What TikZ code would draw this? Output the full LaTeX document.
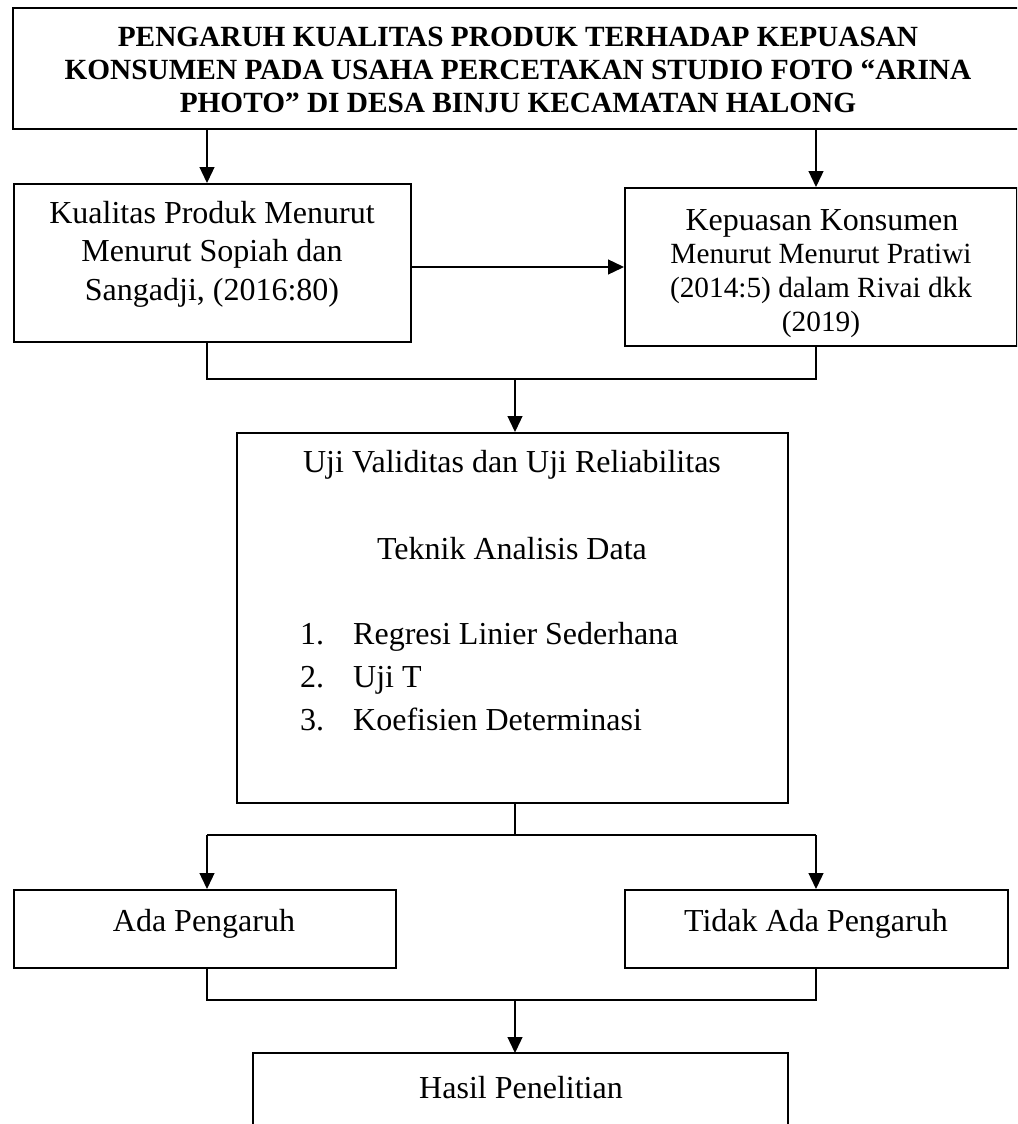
\documentclass[tikz,border=0pt]{standalone}
\usepackage{fontspec}
\setmainfont{Liberation Serif}
\usetikzlibrary{arrows.meta}
\tikzset{
  boxst/.style={draw=black, line width=1.7pt, rectangle, inner sep=0pt},
  conn/.style={line width=1.3pt},
  arr/.style={line width=1.3pt, -{Triangle[length=16pt,width=15pt]}},
  txt/.style={inner sep=0pt, align=center, font=\fontsize{32}{38.5}\selectfont},
  smalltxt/.style={inner sep=0pt, align=center, font=\fontsize{29.3}{34}\selectfont},
  titletxt/.style={inner sep=0pt, align=center, font=\bfseries\fontsize{29.3}{33}\selectfont},
}
\begin{document}
\begin{tikzpicture}[x=1pt,y=-1pt]
\useasboundingbox (0,0) rectangle (1017,1124);
\clip (0,0) rectangle (1017,1124);
% column coordinates
\coordinate (cl) at (207,0);
\coordinate (cr) at (816,0);
\coordinate (cm) at (515,0);
\coordinate (jm) at (0,379);
\coordinate (j2) at (0,835);
\coordinate (j3) at (0,1000);
\coordinate (hy) at (0,267);

% boxes
\path[boxst] (13,8) rectangle (1030,129);
\node[inner sep=0pt, minimum width=1017pt, minimum height=121pt, anchor=north west] (top) at (13,8) {};
\node[boxst, minimum width=397pt, minimum height=158pt, anchor=north west] (kual) at (13,183) {};
\node[boxst, minimum width=392pt, minimum height=158pt, anchor=north west] (kep) at (624,187) {};
\node[boxst, minimum width=551pt, minimum height=370pt, anchor=north west] (mid) at (236,432) {};
\node[boxst, minimum width=382pt, minimum height=78pt, anchor=north west] (ada) at (13,889) {};
\node[boxst, minimum width=383pt, minimum height=78pt, anchor=north west] (tidak) at (624,889) {};
\path[boxst] (253,1053) rectangle (788,1140);
\node[inner sep=0pt, minimum width=535pt, minimum height=87pt, anchor=north west] (hasil) at (253,1053) {};

% texts
\node[titletxt] (ttl) at (518,70) {PENGARUH KUALITAS PRODUK TERHADAP KEPUASAN\\KONSUMEN PADA USAHA PERCETAKAN STUDIO FOTO \char"201C ARINA\\PHOTO\char"201D{} DI DESA BINJU KECAMATAN HALONG};
\node[txt] (kualt) at (212,254) {Kualitas Produk Menurut\\Menurut Sopiah dan\\Sangadji, (2016:80)};
\node[txt] (kept1) at (822,223) {Kepuasan Konsumen};
\node[smalltxt] (kept2) at (821,291) {Menurut Menurut Pratiwi\\(2014:5) dalam Rivai dkk\\(2019)};
\node[txt] (midt1) at (512,465) {Uji Validitas dan Uji Reliabilitas};
\node[txt] (midt2) at (512,549) {Teknik Analisis Data};
\node[txt, anchor=base west] (n1) at (300,644) {1.};
\node[txt, anchor=base west] (i1) at (353,644) {Regresi Linier Sederhana};
\node[txt, anchor=base west] (n2) at (300,687) {2.};
\node[txt, anchor=base west] (i2) at (353,687) {Uji T};
\node[txt, anchor=base west] (n3) at (300,730) {3.};
\node[txt, anchor=base west] (i3) at (353,730) {Koefisien Determinasi};
\node[txt] (adat) at (204,924) {Ada Pengaruh};
\node[txt] (tidakt) at (816,924) {Tidak Ada Pengaruh};
\node[txt] (hasilt) at (521,1088) {Hasil Penelitian};

% connectors
\draw[arr] (top.south -| cl) -- (kual.north -| cl);
\draw[arr] (top.south -| cr) -- (kep.north -| cr);
\draw[arr] (kual.east |- hy) -- (kep.west |- hy);
\draw[conn] (kual.south -| cl) -- (cl |- jm) -- (cr |- jm) -- (kep.south -| cr);
\draw[arr] (cm |- jm) -- (mid.north -| cm);
\draw[conn] (mid.south -| cm) -- (cm |- j2);
\draw[conn] (cl |- j2) -- (cr |- j2);
\draw[arr] (cl |- j2) -- (ada.north -| cl);
\draw[arr] (cr |- j2) -- (tidak.north -| cr);
\draw[conn] (ada.south -| cl) -- (cl |- j3) -- (cr |- j3) -- (tidak.south -| cr);
\draw[arr] (cm |- j3) -- (hasil.north -| cm);
\end{tikzpicture}
\end{document}
